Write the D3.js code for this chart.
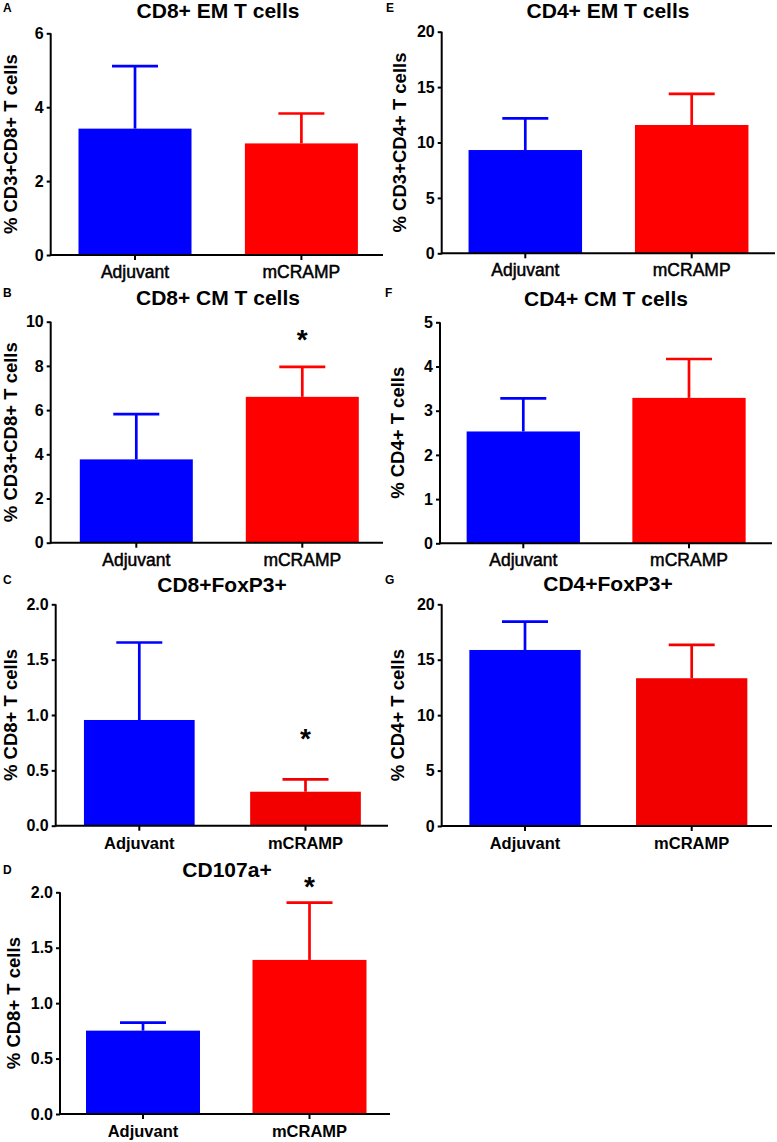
<!DOCTYPE html>
<html>
<head>
  <title>T cell subsets, Adjuvant vs mCRAMP</title>
  <script src="https://d3js.org/d3.v7.min.js"></script>
  <style>
    body { margin: 0; background: #fff; }
    text { font-family: "Liberation Sans", Arial, sans-serif; fill: #000; }
  </style>
</head>
<body>

<script>
// groups on the x axis
const groups = ['Adjuvant', 'mCRAMP'];

// mean and SEM per panel
const cd8EmMean = [3.42, 3.02];
const cd8EmSem = [1.69, 0.81];
const cd8CmMean = [3.77, 6.60];
const cd8CmSem = [2.05, 1.36];
const cd8FoxMean = [0.955, 0.307];
const cd8FoxSem = [0.70, 0.112];
const cd107Mean = [0.752, 1.39];
const cd107Sem = [0.072, 0.517];
const cd4EmMean = [9.32, 11.58];
const cd4EmSem = [2.86, 2.80];
const cd4CmMean = [2.53, 3.29];
const cd4CmSem = [0.75, 0.88];
const cd4FoxMean = [15.88, 13.33];
const cd4FoxSem = [2.56, 3.01];

// tick values
const ticks6 = [0, 2, 4, 6];
const ticks10 = [0, 2, 4, 6, 8, 10];
const ticks5 = [0, 1, 2, 3, 4, 5];
const ticks20 = [0, 5, 10, 15, 20];
const ticks2 = [0, 0.5, 1.0, 1.5, 2.0];

// significance stars: [group, height]
const starB = [['mCRAMP', 9.4]];
const starC = [['mCRAMP', 0.83]];
const starD = [['mCRAMP', 2.09]];

const width = 777;
const height = 1142;

const svg = d3.select('body')
  .append('svg')
  .attr('width', width)
  .attr('height', height);

// layout of each panel
const panels = [
  { letter: 'A', lx: 3, ly: 12, title: 'CD8+ EM T cells', tx: 218, ty: 18,
    ylabel: '% CD3+CD8+ T cells', ylx: 10,
    mean: cd8EmMean, sem: cd8EmSem, ticks: ticks6, fmt: d3.format('d'),
    left: 50.7, right: 383, top: 33.3, zero: 255, c0: 135, c1: 301.4, bw: 113,
    red: '#ff0000', boldX: false, stars: [] },
  { letter: 'B', lx: 3, ly: 297, title: 'CD8+ CM T cells', tx: 218, ty: 305,
    ylabel: '% CD3+CD8+ T cells', ylx: 10,
    mean: cd8CmMean, sem: cd8CmSem, ticks: ticks10, fmt: d3.format('d'),
    left: 50.7, right: 383, top: 321.7, zero: 542.7, c0: 136.3, c1: 302.3, bw: 113,
    red: '#ff0000', boldX: false, stars: starB },
  { letter: 'C', lx: 3, ly: 584, title: 'CD8+FoxP3+', tx: 222, ty: 592,
    ylabel: '% CD8+ T cells', ylx: 10.5,
    mean: cd8FoxMean, sem: cd8FoxSem, ticks: ticks2, fmt: d3.format('.1f'),
    left: 55.7, right: 388, top: 604.3, zero: 825.7, c0: 139.3, c1: 305.5, bw: 110.7,
    red: '#f20000', boldX: true, stars: starC },
  { letter: 'D', lx: 3, ly: 874, title: 'CD107a+', tx: 227, ty: 877,
    ylabel: '% CD8+ T cells', ylx: 13,
    mean: cd107Mean, sem: cd107Sem, ticks: ticks2, fmt: d3.format('.1f'),
    left: 60, right: 390, top: 892.3, zero: 1114, c0: 143, c1: 309.5, bw: 114,
    red: '#ff0000', boldX: true, stars: starD },
  { letter: 'E', lx: 386, ly: 12, title: 'CD4+ EM T cells', tx: 608, ty: 18,
    ylabel: '% CD3+CD4+ T cells', ylx: 399.5,
    mean: cd4EmMean, sem: cd4EmSem, ticks: ticks20, fmt: d3.format('d'),
    left: 441.7, right: 775, top: 31.7, zero: 253.3, c0: 525.3, c1: 691.7, bw: 113.5,
    red: '#ff0000', boldX: false, stars: [] },
  { letter: 'F', lx: 385, ly: 297, title: 'CD4+ CM T cells', tx: 606, ty: 306,
    ylabel: '% CD4+ T cells', ylx: 397,
    mean: cd4CmMean, sem: cd4CmSem, ticks: ticks5, fmt: d3.format('d'),
    left: 440, right: 772, top: 322.3, zero: 543.3, c0: 523.3, c1: 689, bw: 113.3,
    red: '#ff0000', boldX: false, stars: [] },
  { letter: 'G', lx: 385, ly: 584, title: 'CD4+FoxP3+', tx: 608, ty: 591,
    ylabel: '% CD4+ T cells', ylx: 397,
    mean: cd4FoxMean, sem: cd4FoxSem, ticks: ticks20, fmt: d3.format('d'),
    left: 441.7, right: 772, top: 604.3, zero: 826, c0: 525, c1: 691.7, bw: 111.3,
    red: '#f20000', boldX: true, stars: [] }
];

panels.forEach(p => {
  const g = svg.append('g');
  const colors = ['#0000ff', p.red];

  const step = p.c1 - p.c0;
  const pad = 1 - p.bw / step;
  const x = d3.scaleBand()
    .domain(groups)
    .range([p.c0 - step / 2, p.c1 + step / 2])
    .paddingInner(pad)
    .paddingOuter(pad / 2);

  const y = d3.scaleLinear()
    .domain([0, d3.max(p.ticks)])
    .range([p.zero, p.top]);

  const rows = groups.map((k, i) => ({ k, m: p.mean[i], s: p.sem[i], c: colors[i] }));

  // bars
  g.selectAll('.bar')
    .data(rows)
    .enter().append('rect')
      .attr('x', d => x(d.k))
      .attr('y', d => y(d.m))
      .attr('width', x.bandwidth())
      .attr('height', d => y(0) - y(d.m))
      .attr('fill', d => d.c);

  // error bars (upper only)
  const eb = g.selectAll('.err')
    .data(rows)
    .enter().append('g')
      .attr('stroke', d => d.c)
      .attr('stroke-width', 2.7);
  eb.append('line')
    .attr('x1', d => x(d.k) + x.bandwidth() / 2)
    .attr('x2', d => x(d.k) + x.bandwidth() / 2)
    .attr('y1', d => y(d.m))
    .attr('y2', d => y(d.m + d.s));
  eb.append('line')
    .attr('x1', d => x(d.k) + x.bandwidth() / 2 - 23)
    .attr('x2', d => x(d.k) + x.bandwidth() / 2 + 23)
    .attr('y1', d => y(d.m + d.s))
    .attr('y2', d => y(d.m + d.s));

  // y axis
  const ya = g.append('g')
    .attr('transform', `translate(${p.left},0)`)
    .call(d3.axisLeft(y).tickValues(p.ticks).tickFormat(p.fmt).tickSize(4).tickPadding(3).tickSizeOuter(0));
  ya.select('.domain').attr('stroke-width', 2).attr('d', `M0,${p.zero + 1}V${p.top}`);
  ya.selectAll('.tick line').attr('stroke-width', 2);
  ya.selectAll('.tick text')
    .attr('font-size', 16).attr('font-weight', 'bold')
    .attr('font-family', '"Liberation Sans", Arial, sans-serif').attr('fill', '#000');

  // x axis
  const xa = g.append('g')
    .attr('transform', `translate(0,${p.zero})`)
    .call(d3.axisBottom(x).tickSize(5).tickPadding(4).tickSizeOuter(0));
  xa.select('.domain').attr('stroke-width', 2).attr('d', `M${p.left},0H${p.right}`);
  xa.selectAll('.tick line').attr('stroke-width', 2);
  xa.selectAll('.tick text').remove();

  g.selectAll('.xlab')
    .data(groups)
    .enter().append('text')
      .attr('x', d => x(d) + x.bandwidth() / 2)
      .attr('y', p.zero + 23)
      .attr('text-anchor', 'middle')
      .attr('font-size', p.boldX ? 16.5 : 17.5)
      .attr('font-weight', p.boldX ? 'bold' : 'normal')
      .attr('stroke', p.boldX ? 'none' : '#000')
      .attr('stroke-width', 0.5)
      .text(d => d);

  // y label
  g.append('text')
    .attr('transform', `translate(${p.ylx},${(p.top + p.zero) / 2}) rotate(-90)`)
    .attr('text-anchor', 'middle')
    .attr('dominant-baseline', 'central')
    .attr('font-size', 18.5)
    .attr('font-weight', 'bold')
    .text(p.ylabel);

  // title
  g.append('text')
    .attr('x', p.tx)
    .attr('y', p.ty)
    .attr('text-anchor', 'middle')
    .attr('font-size', 21)
    .attr('font-weight', 'bold')
    .text(p.title);

  // panel letter
  g.append('text')
    .attr('x', p.lx)
    .attr('y', p.ly)
    .attr('font-size', 12)
    .attr('font-weight', 'bold')
    .text(p.letter);

  // stars
  g.selectAll('.star')
    .data(p.stars)
    .enter().append('text')
      .attr('x', d => x(d[0]) + x.bandwidth() / 2)
      .attr('y', d => y(d[1]) + 14)
      .attr('text-anchor', 'middle')
      .attr('font-size', 28)
      .attr('font-weight', 'bold')
      .text('*');
});
</script>

</body>
</html>
